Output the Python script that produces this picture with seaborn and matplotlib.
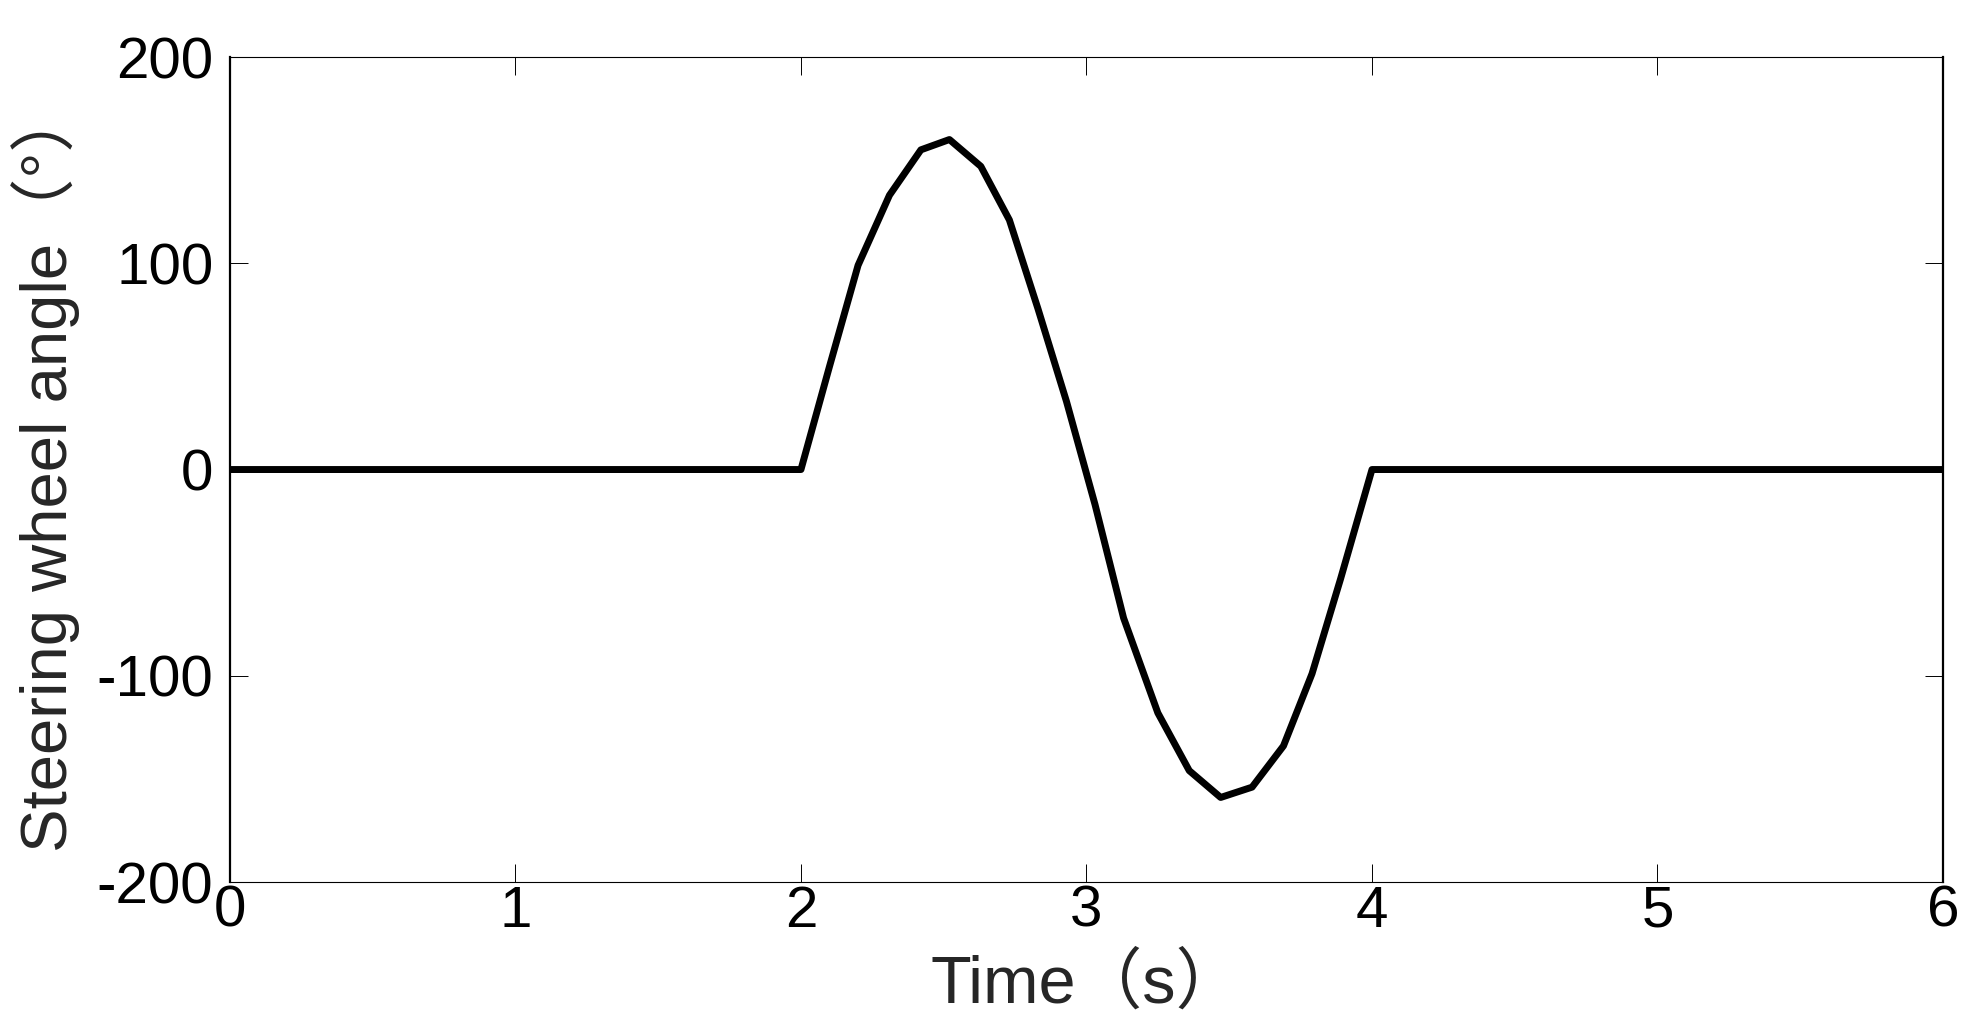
import pandas as pd
import matplotlib
matplotlib.use('Agg')
import matplotlib.pyplot as plt
import seaborn as sns

# Values
time_s = [0.0, 2.0, 2.10, 2.20, 2.31, 2.42, 2.52, 2.63, 2.73, 2.83, 2.93, 3.03,
          3.13, 3.25, 3.36, 3.47, 3.58, 3.69, 3.79, 3.89, 4.0, 6.0]
angle_deg = [0, 0, 50, 99, 133, 155, 160, 147, 121, 78, 33, -17,
             -72, -118, -146, -159, -154, -134, -99, -53, 0, 0]

x_ticks = [0, 1, 2, 3, 4, 5, 6]
y_ticks = [-200, -100, 0, 100, 200]

df = pd.DataFrame({'time': time_s, 'angle': angle_deg})

sns.set_style('ticks')
plt.rcParams['font.family'] = ['Liberation Sans', 'Noto Sans CJK SC', 'DejaVu Sans']

fig = plt.figure(figsize=(19.72, 10.35), dpi=100)
ax = fig.add_axes([0.1166, 0.1478, 0.8687, 0.7971])

sns.lineplot(data=df, x='time', y='angle', color='black', linewidth=5,
             sort=False, ax=ax)

ax.set_xlim(0, 6)
ax.set_ylim(-200, 200)
ax.set_xticks(x_ticks)
ax.set_yticks(y_ticks)
ax.set_yticklabels([str(v) for v in y_ticks])

ax.tick_params(direction='in', top=True, right=True, length=13, width=0.7,
               labelsize=42, colors='black')
ax.tick_params(axis='y', pad=12)
ax.tick_params(axis='x', pad=2)

for side in ['left', 'right']:
    ax.spines[side].set_linewidth(1.6)
for side in ['top', 'bottom']:
    ax.spines[side].set_linewidth(0.8)
for s in ax.spines.values():
    s.set_color('black')
    s.set_visible(True)

ax.set_xlabel('Time（s）', fontsize=48, labelpad=10)
ax.set_ylabel('Steering wheel angle（°）', fontsize=47, labelpad=12)

fig.savefig('out.png', dpi=100, facecolor='white')
